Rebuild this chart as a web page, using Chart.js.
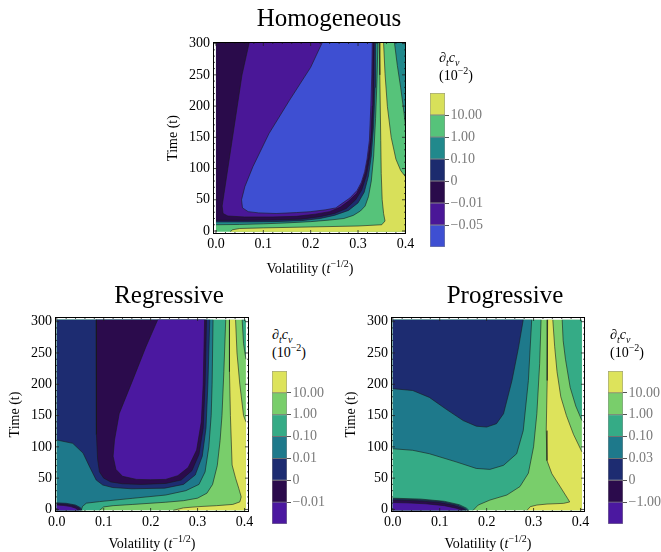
<!DOCTYPE html>
<html>
<head>
<meta charset="utf-8">
<script src="https://cdn.jsdelivr.net/npm/chart.js@4.4.1/dist/chart.umd.min.js"></script>
<style>
  body { margin: 0; background: #fff; width: 661px; height: 552px; position: relative; overflow: hidden; font-family: 'Liberation Serif', 'Times New Roman', serif; }
  canvas { position: absolute; }
  .t { position: absolute; white-space: nowrap; line-height: 1; color: #000; }
  .c { transform: translateX(-50%); }
  sup, sub { line-height: 0; }
</style>
</head>
<body>
<canvas id="hom"></canvas>
<canvas id="homBar"></canvas>
<canvas id="reg"></canvas>
<canvas id="regBar"></canvas>
<canvas id="pro"></canvas>
<canvas id="proBar"></canvas>

<div class="t c" style="left:329px;top:5px;font-size:25px">Homogeneous</div>
<div class="t c" style="left:169px;top:282px;font-size:25px">Regressive</div>
<div class="t c" style="left:505px;top:282px;font-size:25px">Progressive</div>

<div class="t c" style="left:310px;top:262px;font-size:14px">Volatility (<i>t</i><sup style="font-size:10px">−1/2</sup>)</div>
<div class="t c" style="left:152px;top:537px;font-size:14px">Volatility (<i>t</i><sup style="font-size:10px">−1/2</sup>)</div>
<div class="t c" style="left:488px;top:537px;font-size:14px">Volatility (<i>t</i><sup style="font-size:10px">−1/2</sup>)</div>

<div class="t" style="left:439px;top:51px;font-size:14px">∂<sub style="font-size:10px"><i>t</i></sub><i>c</i><sub style="font-size:10px"><i>v</i></sub></div>
<div class="t" style="left:439px;top:69px;font-size:14px">(10<sup style="font-size:10px">−2</sup>)</div>
<div class="t" style="left:272px;top:328px;font-size:14px">∂<sub style="font-size:10px"><i>t</i></sub><i>c</i><sub style="font-size:10px"><i>v</i></sub></div>
<div class="t" style="left:272px;top:346px;font-size:14px">(10<sup style="font-size:10px">−2</sup>)</div>
<div class="t" style="left:610px;top:328px;font-size:14px">∂<sub style="font-size:10px"><i>t</i></sub><i>c</i><sub style="font-size:10px"><i>v</i></sub></div>
<div class="t" style="left:610px;top:346px;font-size:14px">(10<sup style="font-size:10px">−2</sup>)</div>

<script>
Chart.defaults.font.family = "'Liberation Serif', 'Times New Roman', serif";
Chart.defaults.font.size = 14;
Chart.defaults.color = '#000';
Chart.defaults.animation = false;

// axes
const xTicks = [0, 0.1, 0.2, 0.3, 0.4];
const xTickLabels = ['0.0', '0.1', '0.2', '0.3', '0.4'];
const yTicks = [0, 50, 100, 150, 200, 250, 300];
const yTickLabels = ['0', '50', '100', '150', '200', '250', '300'];

// colour bars (bottom -> top) and their boundary labels
const homColors = ['#3e4fd2', '#4a1797', '#2a0b4b', '#1c2b6e', '#21898c', '#56c37a', '#d8e05a'];
const homLevels = ['−0.05', '−0.01', '0', '0.10', '1.00', '10.00'];
const lowColors = ['#4b18a0', '#2b0b4c', '#1d2c71', '#1e798b', '#35ab86', '#79ce6b', '#dde35b'];
const regLevels = ['−0.01', '0', '0.01', '0.10', '1.00', '10.00'];
const proLevels = ['−1.00', '0', '0.03', '0.10', '1.00', '10.00'];

// ---- Homogeneous: contour regions [volatility, time]
const homRange = { x: [-0.0063, 0.4013], y: [-4.8, 302.6] };
const homEdge = { x: [0, 0.4], y: [-1, 301] };
const homBase = [[0, -1], [0.4, -1], [0.4, 301], [0, 301]];
const homYellow = [[0.4, -1], [0.4, 87], [0.39, 97], [0.38, 115], [0.37, 150], [0.362, 199], [0.357, 252], [0.354, 301],
  [0.345, 301], [0.346, 250], [0.348, 145], [0.349, 92], [0.351, 50], [0.354, 28], [0.357, 16], [0.35, 10], [0.3, 8],
  [0.2, 6.5], [0.1, 5], [0.05, 4], [0.035, 2], [0.03, -1]];
const homTealTR = [[0.377, 301], [0.383, 265], [0.39, 230], [0.397, 190], [0.4, 170], [0.4, 301]];
const homTeal = [[0, 301], [0, 10], [0.05, 10.5], [0.1, 11.5], [0.15, 13], [0.2, 15], [0.24, 17.5], [0.27, 20], [0.29, 25],
  [0.305, 32], [0.315, 40], [0.322, 55], [0.328, 80], [0.333, 120], [0.337, 180], [0.34, 240], [0.342, 301]];
const homNavy = [[0, 301], [0, 14.5], [0.06, 14.5], [0.12, 15], [0.18, 16.5], [0.22, 20], [0.25, 25], [0.28, 33], [0.3, 45],
  [0.313, 62], [0.322, 88], [0.328, 120], [0.333, 170], [0.336, 230], [0.337, 301]];
const homDark = [[0, 301], [0, 17], [0.06, 17], [0.12, 17.5], [0.18, 19], [0.22, 23], [0.25, 28], [0.275, 36], [0.295, 50],
  [0.308, 66], [0.318, 90], [0.325, 120], [0.33, 160], [0.333, 220], [0.334, 301]];
const homIndigo = [[0.07, 301], [0.055, 250], [0.045, 200], [0.035, 150], [0.025, 100], [0.017, 60], [0.013, 40], [0.015, 28],
  [0.025, 24], [0.06, 22.5], [0.12, 22.5], [0.17, 23.5], [0.21, 27], [0.24, 31], [0.262, 38], [0.28, 48], [0.297, 60],
  [0.308, 76], [0.316, 95], [0.322, 120], [0.327, 150], [0.33, 200], [0.331, 250], [0.332, 301]];
const homBlue = [[0.224, 301], [0.2, 262], [0.155, 209], [0.112, 156], [0.078, 103], [0.061, 71], [0.054, 50], [0.056, 37],
  [0.068, 31], [0.09, 29], [0.127, 28], [0.17, 29.5], [0.2, 31], [0.232, 34], [0.253, 37], [0.266, 44], [0.283, 53],
  [0.298, 65], [0.307, 78], [0.314, 95], [0.319, 115], [0.324, 145], [0.327, 200], [0.329, 250], [0.33, 301]];
const homPaint = [[homBase, 5], [homYellow, 6], [homTealTR, 4], [homTeal, 4], [homNavy, 3], [homDark, 2], [homIndigo, 1], [homBlue, 0]];

// ---- Regressive
const lowRange = { x: [-0.0038, 0.4096], y: [-4.1, 307.5] };
const lowEdge = { x: [0, 0.403], y: [-1.5, 303] };
const regBase = [[0, -1.5], [0.403, -1.5], [0.403, 303], [0, 303]];
const regYellow = [[0.403, -1.5], [0.403, 140], [0.398, 150], [0.39, 200], [0.384, 250], [0.381, 303], [0.368, 303],
  [0.368, 220], [0.37, 150], [0.3736, 71], [0.381, 50], [0.3877, 34], [0.393, 20], [0.39, 12], [0.375, 8], [0.34, 6],
  [0.303, 4.5], [0.27, 2.5], [0.248, -1.5]];
const regSeaTR = [[0.395, 303], [0.398, 265], [0.403, 240], [0.403, 303]];
const regSea = [[0, 303], [0, -1.5], [0.091, -1.5], [0.1, 4], [0.12, 6], [0.162, 8], [0.232, 11.5], [0.27, 14], [0.3, 18],
  [0.32, 26], [0.332, 40], [0.342, 70], [0.348, 110], [0.352, 150], [0.356, 220], [0.36, 303]];
const regTeal = [[0, 303], [0, -1.5], [0.052, -1.5], [0.055, 5], [0.063, 10], [0.091, 12.5], [0.162, 17.8], [0.232, 23],
  [0.275, 30], [0.303, 40], [0.316, 60], [0.324, 100], [0.329, 150], [0.331, 200], [0.333, 303]];
const regNavy = [[0, 303], [0, 111], [0.034, 105.6], [0.056, 90], [0.07, 68], [0.084, 47], [0.098, 39], [0.119, 35],
  [0.16, 33], [0.23, 34], [0.27, 40], [0.295, 55], [0.31, 85], [0.318, 130], [0.322, 200], [0.326, 303]];
const regDark = [[0.084, 303], [0.084, 200], [0.085, 120], [0.087, 80], [0.091, 60], [0.1, 50], [0.115, 44], [0.14, 41],
  [0.18, 40], [0.232, 41.5], [0.265, 47], [0.288, 62], [0.303, 88], [0.312, 130], [0.316, 200], [0.319, 303]];
const regIndigo = [[0.215, 303], [0.19, 260], [0.162, 207], [0.133, 153], [0.123, 111], [0.12, 85], [0.126, 64], [0.14, 53],
  [0.17, 48], [0.2, 47.5], [0.232, 48], [0.258, 54], [0.28, 67], [0.298, 95], [0.308, 140], [0.312, 200], [0.315, 303]];
const regBlobNavy = [[0, -1.5], [0.054, -1.5], [0.05, 3], [0.04, 7], [0.02, 9.8], [0, 10.5]];
const regBlobDark = [[0, -1.5], [0.051, -1.5], [0.047, 2.5], [0.037, 6], [0.018, 8.3], [0, 9]];
const regBlobIndigo = [[0, -1.5], [0.046, -1.5], [0.04, 2], [0.03, 4.5], [0.015, 6.3], [0, 7]];
const regPaint = [[regBase, 5], [regYellow, 6], [regSeaTR, 4], [regSea, 4], [regTeal, 3], [regNavy, 2], [regDark, 1],
  [regIndigo, 0], [regBlobNavy, 2], [regBlobDark, 1], [regBlobIndigo, 0]];

// ---- Progressive
const proBase = [[0, -1.5], [0.403, -1.5], [0.403, 303], [0, 303]];
const proYellow = [[0.403, -1.5], [0.403, 92], [0.385, 120], [0.37, 150], [0.358, 180], [0.35, 220], [0.345, 260], [0.341, 303],
  [0.33, 303], [0.329, 206], [0.327, 126], [0.3286, 78], [0.339, 57], [0.357, 36], [0.373, 17], [0.377, 12], [0.364, 9.7],
  [0.3286, 8.6], [0.307, 7], [0.293, 4.4], [0.286, -1.5]];
const proSeaR = [[0.361, 303], [0.363, 270], [0.368, 240], [0.378, 195], [0.39, 165], [0.403, 142], [0.403, 303]];
const proSea = [[0, 303], [0, -1.5], [0.171, -1.5], [0.182, 7], [0.207, 15], [0.243, 23], [0.271, 36.5], [0.289, 58],
  [0.3, 100], [0.307, 153], [0.313, 233], [0.316, 303]];
const proTeal = [[0, 303], [0, 97], [0.0425, 94.5], [0.078, 89], [0.135, 76], [0.178, 65.5], [0.207, 64], [0.236, 70.5],
  [0.264, 89], [0.278, 126], [0.289, 206], [0.296, 303]];
const proNavy = [[0, 303], [0, 193], [0.0425, 190], [0.078, 179], [0.114, 160], [0.15, 142], [0.178, 133], [0.2, 131.6],
  [0.221, 137], [0.236, 153], [0.254, 206], [0.268, 259], [0.278, 303]];
const proBlobTeal = [[0, -1.5], [0.162, -1.5], [0.157, 2], [0.142, 7.5], [0.11, 13], [0.06, 16.5], [0, 18]];
const proBlobNavy = [[0, -1.5], [0.159, -1.5], [0.153, 2], [0.138, 7], [0.105, 12.5], [0.055, 15.5], [0, 17]];
const proBlobDark = [[0, -1.5], [0.156, -1.5], [0.148, 2], [0.13, 6.5], [0.1, 11], [0.05, 14], [0, 15]];
const proBlobIndigo = [[0, -1.5], [0.148, -1.5], [0.135, 2], [0.11, 6], [0.07, 9], [0.03, 10.5], [0, 11]];
const proPaint = [[proBase, 5], [proYellow, 6], [proSeaR, 4], [proSea, 4], [proTeal, 3], [proNavy, 2], [proBlobTeal, 3],
  [proBlobNavy, 2], [proBlobDark, 1], [proBlobIndigo, 0]];

function place(cv, left, top, w, h) {
  cv.style.left = left + 'px';
  cv.style.top = top + 'px';
  cv.width = w;
  cv.height = h;
}

// frame with inward ticks, like the original plot frame
const frameTicks = {
  id: 'frameTicks',
  afterDatasetsDraw(chart) {
    const { ctx, chartArea: a, scales: { x, y } } = chart;
    ctx.save();
    ctx.strokeStyle = '#222';
    ctx.lineWidth = 0.8;
    ctx.beginPath();
    for (let v = 0; v <= 0.4001; v += 0.02) {
      const px = x.getPixelForValue(v);
      const len = xTicks.some(t => Math.abs(t - v) < 1e-6) ? 4 : 2;
      ctx.moveTo(px, a.bottom); ctx.lineTo(px, a.bottom - len);
      ctx.moveTo(px, a.top); ctx.lineTo(px, a.top + len);
    }
    for (let v = 0; v <= 300; v += 10) {
      const py = y.getPixelForValue(v);
      const len = v % 50 === 0 ? 4 : 2;
      ctx.moveTo(a.left, py); ctx.lineTo(a.left + len, py);
      ctx.moveTo(a.right, py); ctx.lineTo(a.right - len, py);
    }
    ctx.stroke();
    ctx.strokeStyle = '#000';
    ctx.lineWidth = 1;
    ctx.strokeRect(a.left + 0.5, a.top + 0.5, a.width - 1, a.height - 1);
    ctx.restore();
  }
};

function contour(id, frame, range, edge, paint, colors) {
  const cv = document.getElementById(id);
  place(cv, frame.left - 52, frame.top - 12, frame.width + 66, frame.height + 34);
  const eps = 1e-6;
  const onEdge = (p, q) =>
    (p[0] <= edge.x[0] + eps && q[0] <= edge.x[0] + eps) || (p[0] >= edge.x[1] - eps && q[0] >= edge.x[1] - eps) ||
    (p[1] <= edge.y[0] + eps && q[1] <= edge.y[0] + eps) || (p[1] >= edge.y[1] - eps && q[1] >= edge.y[1] - eps);
  const datasets = [];
  const n = paint.length;
  paint.forEach(([pts, lvl], i) => {
    const data = pts.map(p => ({ x: p[0], y: p[1] }));
    // filled region
    datasets.push({
      data, backgroundColor: colors[lvl], borderWidth: 0, fill: 'shape',
      pointRadius: 0, tension: 0, order: 2 * (n - i)
    });
    // its contour line (edges of the plot range left out)
    if (i > 0) {
      datasets.push({
        data, borderColor: 'rgba(25,25,25,0.62)', borderWidth: 0.95, fill: false,
        pointRadius: 0, tension: 0, order: 2 * (n - i) - 1,
        segment: {
          borderColor: ctx => onEdge(pts[ctx.p0DataIndex], pts[ctx.p1DataIndex]) ? 'rgba(0,0,0,0)' : undefined
        }
      });
    }
  });
  new Chart(cv, {
    type: 'line',
    data: { datasets },
    options: {
      responsive: false,
      events: [],
      layout: { padding: { top: 12, right: 14, left: 0, bottom: 0 } },
      plugins: { legend: { display: false }, tooltip: { enabled: false } },
      scales: {
        x: {
          type: 'linear', min: range.x[0], max: range.x[1],
          afterBuildTicks: s => { s.ticks = xTicks.map(v => ({ value: v })); },
          ticks: { callback: (v, i) => xTickLabels[i], padding: 2, maxRotation: 0, autoSkip: false },
          grid: { display: false, drawTicks: false },
          border: { display: false },
          afterFit: s => { s.height = 22; }
        },
        y: {
          type: 'linear', min: range.y[0], max: range.y[1],
          afterBuildTicks: s => { s.ticks = yTicks.map(v => ({ value: v })); },
          ticks: { callback: (v, i) => yTickLabels[i], padding: 3, autoSkip: false },
          grid: { display: false, drawTicks: false },
          border: { display: false },
          title: { display: true, text: 'Time (t)', font: { size: 14 }, padding: { top: 4, bottom: 0 } },
          afterFit: s => { s.width = 52; }
        }
      }
    },
    plugins: [frameTicks]
  });
}

function colorBar(id, box, colors, levels) {
  const cv = document.getElementById(id);
  place(cv, box.left, box.top - 10, box.width + 60, box.height + 20);
  new Chart(cv, {
    type: 'bar',
    data: {
      labels: [''],
      datasets: colors.map(c => ({
        data: [1], backgroundColor: c, borderColor: 'rgba(50,50,50,0.55)', borderWidth: 0.8,
        borderSkipped: false, barPercentage: 1, categoryPercentage: 1
      }))
    },
    options: {
      responsive: false,
      events: [],
      layout: { padding: { top: 10, bottom: 10, left: 0, right: 0 } },
      plugins: { legend: { display: false }, tooltip: { enabled: false } },
      scales: {
        x: { display: false, stacked: true },
        y: {
          stacked: true, position: 'right', min: 0, max: 7,
          afterBuildTicks: s => { s.ticks = levels.map((_, i) => ({ value: i + 1 })); },
          ticks: { callback: (v, i) => levels[i], color: '#7a7a7a', padding: 1.5 },
          grid: { drawOnChartArea: false, tickLength: 4, color: '#555' },
          border: { display: false },
          afterFit: s => { s.width = 60; }
        }
      }
    }
  });
}

contour('hom', { left: 213, top: 42, width: 193, height: 192 }, homRange, homEdge, homPaint, homColors);
contour('reg', { left: 55, top: 317, width: 194, height: 195 }, lowRange, lowEdge, regPaint, lowColors);
contour('pro', { left: 391, top: 317, width: 194, height: 195 }, lowRange, lowEdge, proPaint, lowColors);
colorBar('homBar', { left: 430, top: 93, width: 15, height: 154 }, homColors, homLevels);
colorBar('regBar', { left: 272, top: 371, width: 15, height: 153 }, lowColors, regLevels);
colorBar('proBar', { left: 608, top: 371, width: 15, height: 153 }, lowColors, proLevels);
</script>
</body>
</html>
